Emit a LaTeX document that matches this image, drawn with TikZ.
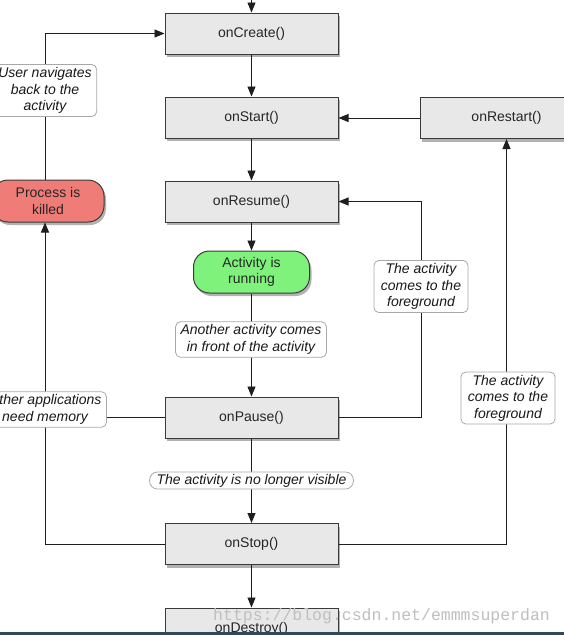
\documentclass[tikz,border=0pt]{standalone}
\usepackage{fontspec}
\setmainfont{Liberation Sans}
\newfontfamily\wmfont{Liberation Mono}
\usetikzlibrary{arrows.meta,shadows,calc}
\definecolor{boxfill}{HTML}{E8E8E8}
\definecolor{boxline}{HTML}{3A3A3A}
\definecolor{linecol}{HTML}{1E1E1E}
\definecolor{runfill}{HTML}{7EF27A}
\definecolor{killfill}{HTML}{F07C78}
\definecolor{labline}{HTML}{A8A8A8}
\definecolor{stripcol}{HTML}{2E4A5C}
\begin{document}
\begin{tikzpicture}[x=1pt,y=-1pt,
  shad/.style={drop shadow={shadow xshift=2pt, shadow yshift=-3pt, opacity=0.3, fill=black}},
  box/.style={draw=boxline, fill=boxfill, line width=1pt, minimum width=173pt, minimum height=41pt, inner sep=0pt, text=black!85, font=\fontsize{14}{16.5}\selectfont, shad},
  pill/.style={draw=boxline, line width=1pt, rounded corners=16pt, minimum height=42pt, inner sep=0pt, align=center, text=black!85, font=\fontsize{14}{16.5}\selectfont, shad},
  lab/.style={draw=labline, fill=white, rounded corners=5pt, line width=0.8pt, align=center, inner xsep=5pt, inner ysep=3pt, text=black!90, font=\itshape\fontsize{14}{16.5}\selectfont},
  arr/.style={draw=linecol, line width=0.9pt, -{Triangle[length=10pt,width=8pt]}},
  ln/.style={draw=linecol, line width=0.9pt}
]
\useasboundingbox (0,0) rectangle (564,635);
\clip (0,0) rectangle (564,635);
\fill[white] (0,0) rectangle (564,635);

% main nodes
\node[box] (create)  at (251.5,33.5) {onCreate()};
\node[box] (start)   at (251.5,117.5) {onStart()};
\node[box] (resume)  at (251.5,201.5) {onResume()};
\node[pill, fill=runfill, minimum width=116pt] (running) at (251.5,272) {Activity is\\running};
\node[box] (pause)   at (251.5,417.5) {onPause()};
\node[box] (stop)    at (251.5,544) {onStop()};
\node[box] (destroy) at (251.5,628.5) {onDestroy()};
\node[box] (restart) at (506.5,118) {onRestart()};
\node[pill, fill=killfill, minimum width=112pt] (killed) at (48,201) {Process is\\killed};

\coordinate (topin) at (251.5,-20);
\coordinate (lx) at (45,0);
\coordinate (rx1) at (421,0);

% connectors
\draw[arr] (topin) -- (create);
\draw[arr] (create) -- (start);
\draw[arr] (start) -- (resume);
\draw[arr] (resume) -- (running);
\draw[arr] (running) -- (pause);
\draw[arr] (pause) -- (stop);
\draw[arr] (stop) -- (destroy);
\draw[arr] (restart.west) -- (restart.west -| start.east);
\draw[arr] (pause.east) -- (pause.east -| rx1) -- (resume.east -| rx1) -- (resume.east);
\draw[arr] (stop.east) -| (restart.south);
\draw[arr] (killed.north -| lx) |- (create.west);
\draw[arr] (stop.west) -| (killed.south -| lx);
\draw[ln] (pause.west) -- (pause.west -| lx);

% labels on connectors
\node[lab] (navlab) at (45,90.5) {User navigates\\back to the\\activity};
\node[lab] (anolab) at (251,339.5) {Another activity comes\\in front of the activity};
\node[lab, inner xsep=7pt] (fg1) at (421,286.5) {The activity\\comes to the\\foreground};
\node[lab, inner xsep=7pt] (fg2) at (508,398) {The activity\\comes to the\\foreground};
\node[lab] (memlab) at (45,409.5) {Other applications\\need memory};
\node[lab, rounded corners=8pt, inner xsep=7pt, inner ysep=2pt] (vislab) at (251.5,480.5) {The activity is no longer visible};

% watermark and bottom strip
\node[anchor=base west, inner sep=0pt, text=black!25, font=\wmfont\fontsize{16.5}{16.5}\selectfont] (wm) at (213,620) {https://blog.csdn.net/emmmsuperdan};
\fill[stripcol] (0,632) rectangle (564,635);
\end{tikzpicture}
\end{document}
